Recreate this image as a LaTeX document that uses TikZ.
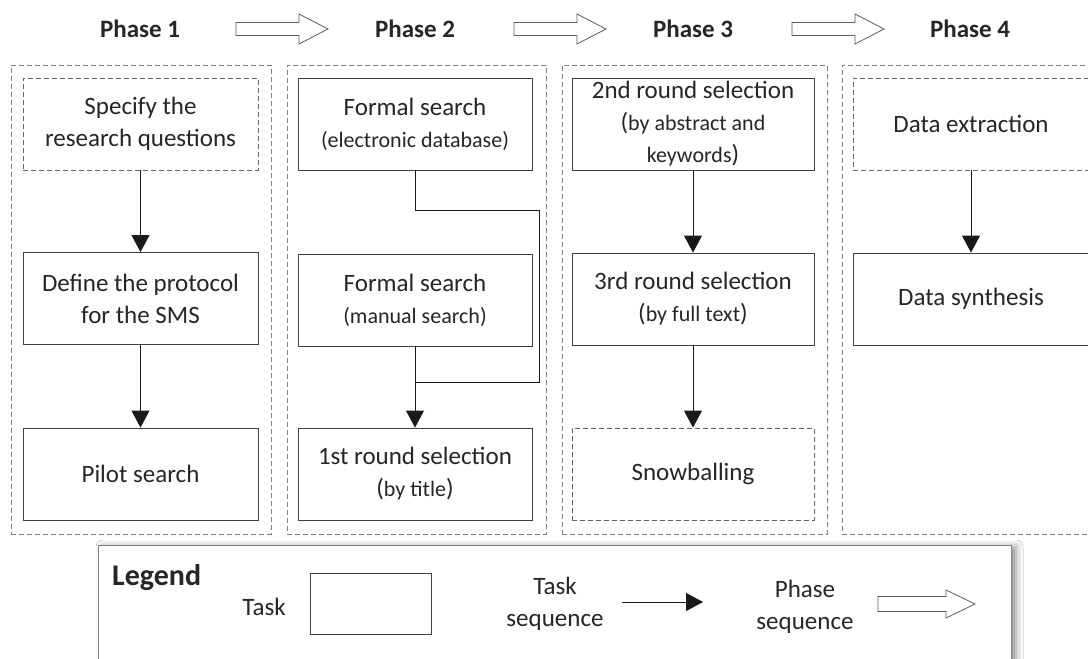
\documentclass[tikz,border=0pt]{standalone}
\usepackage{fontspec}
\setmainfont{Carlito}
\usetikzlibrary{arrows.meta,shadows.blur}
\definecolor{txt}{HTML}{262626}
\definecolor{boxline}{HTML}{404040}
\definecolor{dashline}{HTML}{808080}
\newcommand\mainsz{\fontsize{25}{32}\selectfont}
\newcommand\subsz{\fontsize{22}{32}\selectfont}
\newcommand\headsz{\bfseries\fontsize{25}{28}\selectfont}
\tikzset{
  phasearr/.pic={\draw[draw=boxline!85, fill=white, line width=0.8pt]
    (0,-6.5) -- (63,-6.5) -- (63,-15) -- (92,0) -- (63,15) -- (63,6.5) -- (0,6.5) -- cycle;},
  legarr/.pic={\draw[draw=boxline!85, fill=white, line width=0.8pt]
    (0,-7.5) -- (68,-7.5) -- (68,-14) -- (97,0) -- (68,14) -- (68,7.5) -- (0,7.5) -- cycle;}
}
\begin{document}
\begin{tikzpicture}[x=1pt,y=-1pt,
  every node/.style={text=txt},
  phasebox/.style={draw=dashline, dash pattern=on 5pt off 3pt, line width=0.9pt, minimum height=469pt, inner sep=0pt},
  task/.style={draw=boxline, line width=0.9pt, minimum height=92pt, align=center, font=\mainsz, inner sep=0pt},
  opttask/.style={task, dash pattern=on 5pt off 3pt, draw=boxline!80},
  phaselabel/.style={font=\headsz, inner sep=0pt},
  conn/.style={draw=black!90, line width=0.9pt},
  seq/.style={conn, -{Triangle[width=18pt,length=17pt]}}
]
\useasboundingbox (0,0) rectangle (1088,659);
\fill[white] (0,0) rectangle (1088,659);

% phase labels
\node[phaselabel] (p1) at (140,29) {Phase 1};
\node[phaselabel] (p2) at (415,29) {Phase 2};
\node[phaselabel] (p3) at (693,29) {Phase 3};
\node[phaselabel] (p4) at (970,29) {Phase 4};
\pic at (236,29) {phasearr};
\pic at (514,29) {phasearr};
\pic at (792,29) {phasearr};

% phase containers
\node[phasebox, minimum width=260pt] (c1) at (141,299.5) {};
\node[phasebox, minimum width=259pt] (c2) at (416.5,299.5) {};
\node[phasebox, minimum width=265pt] (c3) at (694.5,299.5) {};
\node[phasebox, minimum width=259pt] (c4) at (971.5,299.5) {};

% phase 1
\node[opttask, minimum width=235pt] (a1) at (140.5,124) {Specify the\\research questions};
\node[task, minimum width=235pt] (a2) at (140.5,298.5) {Define the protocol\\for the SMS};
\node[task, minimum width=235pt] (a3) at (140.5,474) {Pilot search};
\draw[seq] (a1.south) -- (a2.north);
\draw[seq] (a2.south) -- (a3.north);

% phase 2
\node[task, minimum width=234pt] (b1) at (415,124) {Formal search\\{\subsz(electronic database)}};
\node[task, minimum width=234pt] (b2) at (415,300) {Formal search\\{\subsz(manual search)}};
\node[task, minimum width=234pt] (b3) at (415,474) {1st round selection\\({\subsz by title})};
\coordinate (r1) at (539,210);
\coordinate (r2) at (539,382);
\coordinate (m) at (415,382);
\draw[conn] (b1.south) |- (r1) -- (r2) -- (m);
\draw[seq] (b2.south) -- (b3.north);

% phase 3
\node[task, minimum width=242pt] (d1) at (693,124) {2nd round selection\\({\subsz by abstract and}\\{\subsz keywords})};
\node[task, minimum width=242pt] (d2) at (693,299) {3rd round selection\\({\subsz by full text})};
\node[opttask, minimum width=242pt] (d3) at (693,474) {Snowballing};
\draw[seq] (d1.south) -- (d2.north);
\draw[seq] (d2.south) -- (d3.north);

% phase 4
\node[opttask, minimum width=236pt] (e1) at (971,124) {Data extraction};
\node[task, minimum width=236pt] (e2) at (971,299) {Data synthesis};
\draw[seq] (e1.south) -- (e2.north);

% legend
\node[draw=dashline, line width=0.8pt, fill=white, inner sep=0pt,
  blur shadow={shadow xshift=5pt, shadow yshift=-2pt, shadow blur radius=7pt, shadow opacity=45},
  minimum width=913pt, minimum height=150pt] (leg) at (554.5,620) {};
\node[font=\bfseries\fontsize{30}{34}\selectfont, anchor=west, inner sep=0pt] (legt) at (112,578) {Legend};
\node[font=\mainsz, inner sep=0pt] (lt) at (264,607) {Task};
\node[draw=boxline, line width=0.9pt, minimum width=121pt, minimum height=61pt, inner sep=0pt] (lbox) at (370.5,603.5) {};
\node[font=\mainsz, align=center, inner sep=0pt] (ls) at (555,604) {Task\\sequence};
\coordinate (la) at (622,602);
\coordinate (lb) at (703,602);
\draw[seq] (la) -- (lb);
\node[font=\mainsz, align=center, inner sep=0pt] (lp) at (805,607) {Phase\\sequence};
\pic at (878,604) {legarr};
\end{tikzpicture}
\end{document}
